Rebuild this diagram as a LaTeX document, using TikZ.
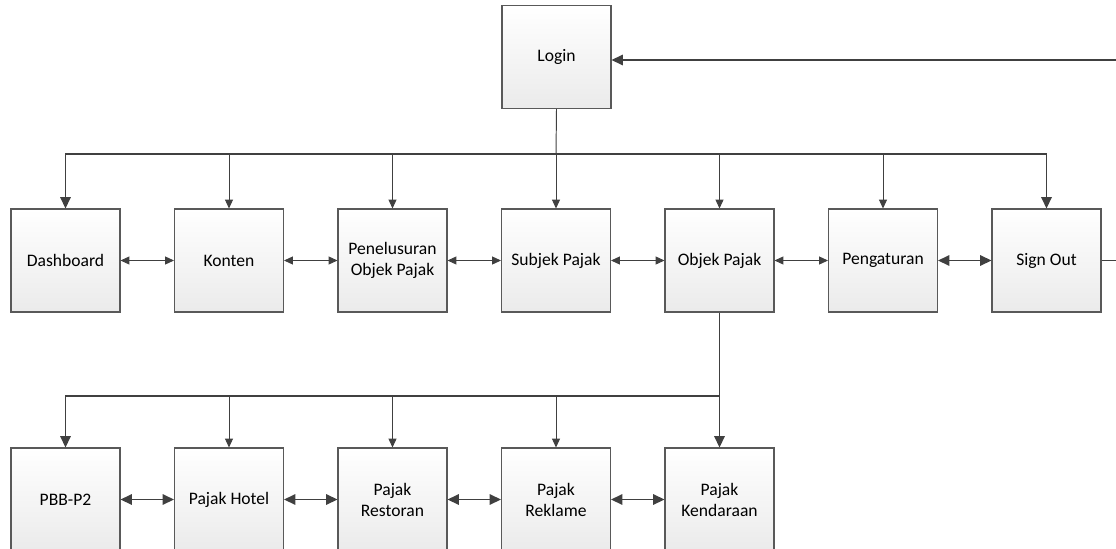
\documentclass[tikz,border=0pt]{standalone}
\usepackage{fontspec}
\setmainfont{Carlito}
\usetikzlibrary{arrows.meta,positioning,shadows}

\tikzset{
  menubox/.style={draw=black!65, line width=0.6pt, top color=white, bottom color=black!8,
    minimum width=2.18cm, minimum height=2.06cm, align=center, font=\fontsize{10}{12}\selectfont,
    drop shadow={shadow xshift=0.5pt, shadow yshift=-0.5pt, fill=black!12, opacity=0.6}},
  thinarr/.style={draw=black!75, line width=0.55pt, -{Triangle[width=4.5pt,length=5pt]}},
  thickarr/.style={draw=black!75, line width=0.9pt, -{Triangle[width=6pt,length=6.5pt]}},
  thinboth/.style={draw=black!75, line width=0.55pt, {Triangle[width=4.5pt,length=5pt]}-{Triangle[width=4.5pt,length=5pt]}},
  thickboth/.style={draw=black!75, line width=0.9pt, {Triangle[width=6pt,length=6.5pt]}-{Triangle[width=6pt,length=6.5pt]}},
}

\begin{document}
\begin{tikzpicture}[x=0.02cm, y=-0.02cm]
        \useasboundingbox (0,0) rectangle (1116,548);

        % Top level
        \node[menubox] (login) at (556.5,57) {Login};

        % Main menu
        \node[menubox] (dash) at (65.5,260.5) {Dashboard};
        \node[menubox] (konten) at (229,260.5) {Konten};
        \node[menubox] (telusur) at (392.5,260.5) {Penelusuran\\Objek Pajak};
        \node[menubox] (subjek) at (556,260.5) {Subjek Pajak};
        \node[menubox] (objek) at (719.5,260.5) {Objek Pajak};
        \node[menubox] (atur) at (883,260.5) {Pengaturan};
        \node[menubox] (signout) at (1046.5,260.5) {Sign Out};

        % Objek Pajak submenu
        \node[menubox] (pbb) at (65.5,499.5) {PBB-P2};
        \node[menubox] (hotel) at (229,499.5) {Pajak Hotel};
        \node[menubox] (restoran) at (392.5,499.5) {Pajak\\Restoran};
        \node[menubox] (reklame) at (556,499.5) {Pajak\\Reklame};
        \node[menubox] (kendaraan) at (719.5,499.5) {Pajak\\Kendaraan};

        \coordinate (bustop) at (556,154);
        \coordinate (busbot) at (719.5,396);
        \coordinate (back) at (1130,60);

        % Login to main menu
        \draw[draw=black!75, line width=0.55pt] (login.south) -- (bustop);
        \draw[thickarr] (bustop) -- (bustop -| dash) -- (dash.north);
        \draw[thickarr] (bustop) -- (bustop -| signout) -- (signout.north);
        \foreach \n in {konten,telusur,subjek,objek,atur} {
          \draw[thinarr] (bustop -| \n) -- (\n.north);
        }

        % Sign out back to login
        \draw[thickarr] (signout.east) -- (signout.east -| back) -- (back) -- (login.east |- back);

        % Objek Pajak to submenu
        \draw[draw=black!75, line width=0.55pt] (objek.south) -- (busbot);
        \draw[thickarr] (busbot) -- (busbot -| pbb) -- (pbb.north);
        \draw[thickarr] (busbot) -- (kendaraan.north);
        \foreach \n in {hotel,restoran,reklame} {
          \draw[thinarr] (busbot -| \n) -- (\n.north);
        }

        % Links between menus
        \draw[thinboth] (dash) -- (konten);
        \draw[thinboth] (konten) -- (telusur);
        \draw[thinboth] (telusur) -- (subjek);
        \draw[thinboth] (subjek) -- (objek);
        \draw[thinboth] (objek) -- (atur);
        \draw[thickboth] (atur) -- (signout);

        \draw[thickboth] (pbb) -- (hotel);
        \draw[thickboth] (hotel) -- (restoran);
        \draw[thickboth] (restoran) -- (reklame);
        \draw[thickboth] (reklame) -- (kendaraan);
    \end{tikzpicture}
\end{document}
